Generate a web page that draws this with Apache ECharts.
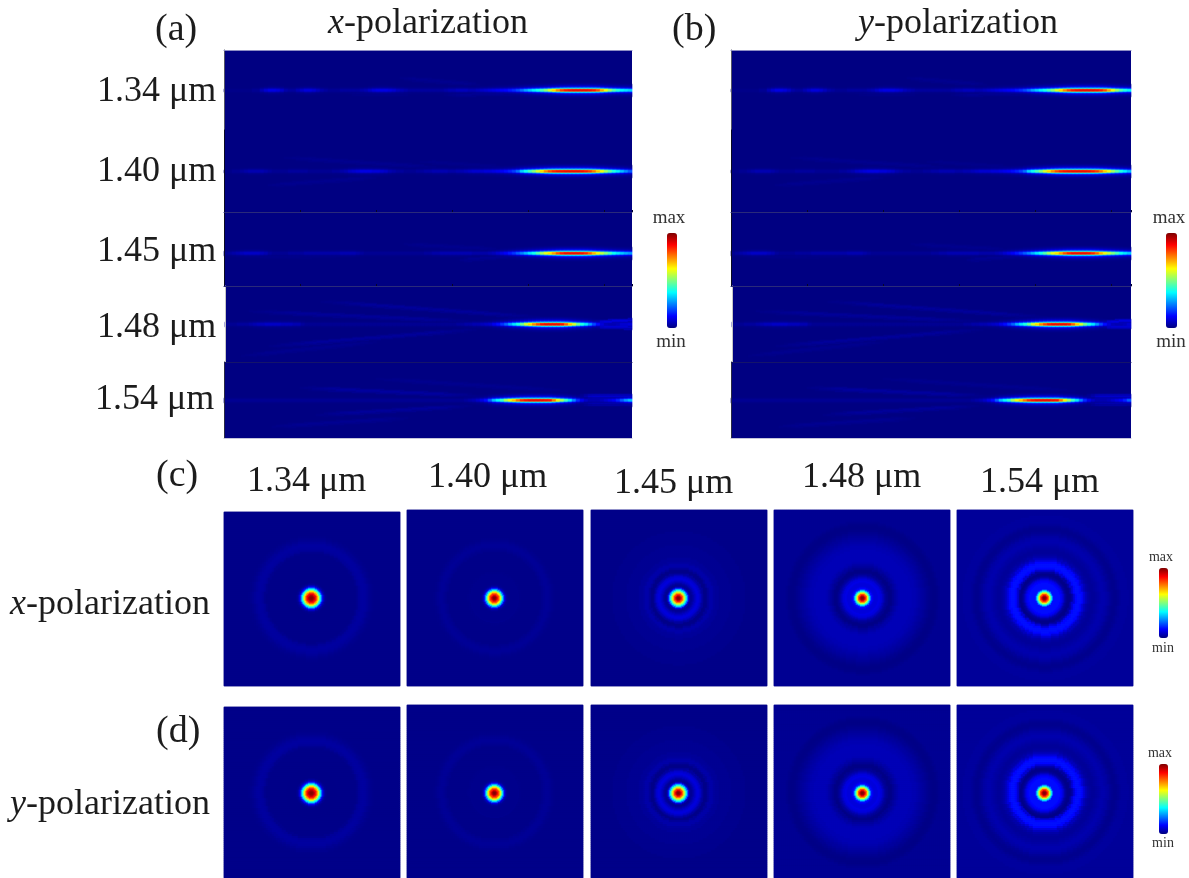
<!DOCTYPE html>
<html><head><meta charset="utf-8">
<style>html,body{margin:0;padding:0;background:#fff}#c{width:1189px;height:878px;filter:blur(0.5px)}</style>
<script src="https://cdn.jsdelivr.net/npm/echarts@6/dist/echarts.min.js"></script>
</head><body><div id="c"></div>
<script>
// Along-axis intensity (percent of max) of each focal line, one value per column
const line134=[1,1,1,1,1,1,1,2,2,5,8,10,10,9,7,4,3,3,5,7,9,9,8,6,4,3,2,2,2,3,3,3,3,3,4,5,7,9,10,10,10,9,8,6,5,4,3,3,3,3,3,3,3,3,3,4,5,5,6,6,6,5,5,6,7,8,9,10,11,12,13,15,17,20,24,29,33,37,41,46,52,60,68,76,83,87,89,90,90,90,90,89,87,82,73,63,54,47,42,38,36,34];
const line140=[1,1,2,2,3,4,5,5,5,5,4,3,2,2,2,2,3,3,3,3,3,2,2,2,2,2,2,3,3,4,5,7,8,9,10,10,10,9,9,8,7,5,4,3,3,2,2,2,3,3,4,4,5,5,5,5,4,4,5,5,6,7,8,8,8,9,9,10,11,12,14,16,19,24,34,40,46,52,60,68,76,82,86,88,89,90,90,90,90,89,87,84,78,70,63,55,48,42,37,32,27,22];
const line145=[2,3,4,5,6,7,7,7,7,6,5,3,2,2,2,2,3,3,3,3,4,4,4,4,4,4,4,4,4,5,5,5,5,4,3,2,2,2,2,2,2,2,2,2,2,2,2,2,2,2,3,3,4,4,5,5,5,5,5,5,5,5,4,4,4,4,5,6,8,10,12,15,18,22,26,31,36,41,47,55,62,67,74,82,87,90,90,90,90,89,86,80,72,64,58,52,46,40,36,33,30,28];
const line148=[2,2,2,3,3,3,4,5,6,6,7,7,7,7,6,6,6,5,5,3,2,2,2,2,2,2,2,2,2,2,2,2,2,2,2,2,2,2,2,2,2,2,2,2,2,2,2,2,2,2,2,2,2,2,2,2,2,2,3,3,4,4,5,5,6,7,8,11,14,18,23,30,36,42,50,60,68,76,83,88,90,90,90,90,88,80,70,60,50,42,36,28,20,14,9,6,5,5,6,8,8,9];
const line154=[2,2,2,2,2,2,2,2,2,2,2,2,2,2,2,2,2,2,2,2,2,2,2,2,2,2,2,2,2,2,2,2,2,2,2,2,2,2,2,2,2,2,2,2,2,2,2,2,2,2,2,2,2,2,2,2,2,2,2,2,3,4,5,7,10,14,22,32,38,44,55,63,70,78,85,88,90,90,90,90,89,88,78,65,55,45,36,26,17,11,7,5,5,5,6,8,10,12,16,22,28,32];
// Cross-axis falloff of a focal line, by row offset from its centre
const lineFalloff=[1,.92,.42,.2,.1,.06,.03,.015];
// Faint side streaks: [fromColumn, fromRowOffset, toColumn, toRowOffset, intensity]
const streaks134=[[41,-13,66,-5,.016],[53,5,78,2,.02],[28,3,49,3,.014]];
const streaks140=[[10,-15,57,-3,.016],[7,15,41,5,.016],[45,-11,74,-3,.012]];
const streaks145=[[57,7,74,2,.02],[41,-10,72,-3,.014],[3,4,34,2,.012]];
const streaks148=[[20,-24,82,-6,.026],[1,-14,66,-2,.024],[7,23,66,4,.026],[0,33,41,16,.016],[92,-2,101,-4,.09],[92,2,101,3,.08]];
const streaks154=[[16,-13,66,-4,.03],[32,-23,91,-8,.016],[20,15,64,5,.026],[8,27,49,17,.018],[88,-4,101,-4,.08],[88,3,101,3,.05]];
// Radial intensity profiles (percent of max), one value per 2 px ring
const rings134=[100,97,88,72,47,27,9,3,1.5,1,1,1,1,1,1,1,1,1,1,1,1,1,1,1.5,2.5,3,3.2,3,2.5,2,1.5,1.2,1,1,1,1,1,1,1,1,1,1,1,1,1,1,1,1,1,1,1,1,1,1,1,1,1,1,1,1,1,1,1,1,1];
const rings140=[100,96,83,62,38,14,4,2,1.5,1.5,1.5,1.5,1.5,1.2,1,1,1,1,1,1,1,1,1,1,1.5,2,2.2,2.2,2,1.5,1.2,1,1,1,1,1,1,1,1,1,1,1,1,1,1,1,1,1,1,1,1,1,1,1,1,1,1,1,1,1,1,1,1,1];
const rings145=[100,95,80,57,36,14,2,3,6,8.5,9,7,3,1,1,2.5,4,4,3,2.5,2.5,2,2,2,2,2,2,1.5,1.5,1.5,1.5,1.5,1.5,1.5,1,1,1,1,1,1,1,1,1,1,1,1,1,1,1,1,1,1,1,1,1,1,1,1,1,1,1,1,1,1,1];
const rings148=[100,95,76,50,28,14,9,9,10,9,7,4,2,.8,.8,2,3,4,5,5.5,5.5,5.5,5.5,5.5,5.5,5,5,4.5,4,3.5,3,2.5,2,1.5,1,.8,.8,1,1.5,2,2,2,2,2,2,2,2,2,2,2,2,2,2,2,2,2,2,2,2,2,2,2,2,2,2];
const rings154=[100,95,76,50,28,14,14,14,13,10,5,2,1,3,8,13,14,14,13,9,6,4,3,2.5,2.5,3,3.5,4,4.5,4.5,4,3.5,2.5,2,1.5,1.5,2,2.5,3,3,3,3,2.5,2.5,2.5,2.5,2.5,2.5,2.5,2.5,2.5,2.5,2.5,2.5,2.5,2.5,2.5,2.5,2.5,2.5,2.5,2.5,2.5,2.5,2.5];
// Central spot (percent of max), one value per 1 px of radius
const core134=[100,99,97,94,88,81,72,62,49,38,26,14,8,4,2,1.5,1,1,1,1,1,1,1,1,1];
const core140=[100,99,95,89,82,73,63,50,38,25,12,6,3,2,1.5,1.5,1.5,1.5,1.5,1.5,1.5,1.5,1.5,1.5,1.5];
const core145=[100,99,95,88,80,68,58,47,38,26,12,5,2,2,3,4,6,7,8.5,9,9,8,7,5,3];
const core148=[100,99,94,86,78,62,50,38,26,14,12,10,9,9,9,9,10,10,9,9,7,6,4,3,2];
const core154=[100,99,94,86,78,62,50,38,26,14,14,14,14,14,14,14,13,12,10,8,5,3,2,1,1];
// Tick and heading labels
const wavelengths=['1.34 \u03bcm','1.40 \u03bcm','1.45 \u03bcm','1.48 \u03bcm','1.54 \u03bcm'];
const jet=['#00007f','#0000ff','#007fff','#00ffff','#7fff7f','#ffff00','#ff7f00','#ff0000','#7f0000'];

const linesets=[[line134,streaks134],[line140,streaks140],[line145,streaks145],[line148,streaks148],[line154,streaks154]];
const ringsets=[rings134,rings140,rings145,rings148,rings154];
const coresets=[core134,core140,core145,core148,core154];
const FIELD='#000082', SERIF='"Liberation Serif","Times New Roman",serif';

function seq(n){return Array.from({length:n},(_,i)=>i);}
function lineCells(profile,strk,core,rows,cols){
  const out=[];
  for(let y=0;y<rows;y++)for(let x=0;x<cols;x++){
    let v=(profile[x]/100)*(lineFalloff[Math.abs(y-core)]||0);
    for(const s of strk){
      if(x<s[0]||x>s[2])continue;
      const t=(x-s[0])/(s[2]-s[0]);
      const off=s[1]+(s[3]-s[1])*t;
      const d=Math.abs(y-core-off);
      const fade=Math.min(1,t*4,s[2]>=100?1:(1-t)*4);
      if(d<1)v=Math.max(v,s[4]*fade);else if(d<2.2)v=Math.max(v,s[4]*.6*fade);
    }
    if(v>=.006)out.push([x,y,+v.toFixed(4)]);
  }
  return out;
}
function ringCells(prof,cx,cy,cols,rows,rMax){
  const out=[];
  for(let y=0;y<rows;y++)for(let x=0;x<cols;x++){
    const i=Math.round(Math.hypot(x-cx,y-cy));
    if(i>rMax)continue;
    const v=(prof[i]===undefined?prof[prof.length-1]:prof[i])/100;
    if(v>=.006)out.push([x,y,v]);
  }
  return out;
}
const grids=[],xs=[],ys=[],series=[];
function addPanel(rect,cols,rows,cells,xOpt,yOpt,gridOpt){
  const idx=grids.length;
  grids.push(Object.assign({left:rect[0],top:rect[1],width:rect[2],height:rect[3],show:true,backgroundColor:FIELD,borderWidth:0,containLabel:false},gridOpt||{}));
  xs.push(Object.assign({type:'category',gridIndex:idx,z:5,data:seq(cols),axisLabel:{show:false},splitLine:{show:false},axisTick:{show:false},axisLine:{show:false}},xOpt||{}));
  ys.push(Object.assign({type:'category',gridIndex:idx,z:5,inverse:true,data:seq(rows),axisLabel:{show:false},splitLine:{show:false},axisTick:{show:false},axisLine:{show:false}},yOpt||{}));
  series.push({type:'heatmap',xAxisIndex:idx,yAxisIndex:idx,data:cells,silent:true,animation:false,progressive:0,itemStyle:{borderWidth:0},emphasis:{disabled:true}});
}
// Panels (a) and (b): five stacked strips each
const stripTop=[50,130,212,286,362], stripH=[80,82,74,76,76], stripCore=[40,41,41,38,38];
const sepTick={show:true,interval:18,inside:true,length:2,lineStyle:{color:'#05052a'}};
const sepStyle=[
  {position:'top',axisLine:{show:true,lineStyle:{color:'#8d8dc4',width:1}}},
  {axisLine:{show:true,lineStyle:{color:'#2a2a7a',width:1}},axisTick:sepTick},
  {axisLine:{show:true,lineStyle:{color:'#2a2a7a',width:1}},axisTick:sepTick},
  {axisLine:{show:true,lineStyle:{color:'#14146a',width:1}}},
  {axisLine:{show:true,lineStyle:{color:'#c4c4dc',width:1}}}];
const leftEdge=['#555566','#0b0b22','#0b0b22','#c6c6c6','#2a2a44'];
[[224,102],[731,100]].forEach(([left,cols])=>{
  linesets.forEach(([p,s],k)=>{
    addPanel([left+(k===3?1:0),stripTop[k],cols*4-(k===3?1:0),stripH[k]],cols,stripH[k],lineCells(p,s,stripCore[k],stripH[k],cols),
      sepStyle[k],{axisLine:{show:true,lineStyle:{color:leftEdge[k],width:1}}});
  });
});
// Panels (c) and (d): five transverse intensity maps each
const mapLeft=[224,407,591,774,957], mapCx=[43.35,43.3,43.5,44,43.7];
const border={borderWidth:1,borderColor:'#9a9ac8'};
ringsets.forEach((r,k)=>{
  const top=k===0?512:510, rows=k===0?87:88;
  addPanel([mapLeft[k],top,176,rows*2],88,rows,ringCells(r,mapCx[k],k===0?42.65:43.65,88,rows,99),null,null,border);
});
ringsets.forEach((r,k)=>{
  const top=k===0?707:705, rows=k===0?86:87;
  addPanel([mapLeft[k],top,176,rows*2],88,rows,ringCells(r,mapCx[k],k===0?42.5:43.5,88,rows,99),null,null,border);
});
// Fine 1 px overlay of each central spot
const spotCy=[598,793];
spotCy.forEach(cy=>{
  coresets.forEach((c,k)=>{
    const cx=Math.round(mapLeft[k]+mapCx[k]*2);
    addPanel([cx-25,cy-25,51,51],51,51,ringCells(c,25,25,51,51,24),null,null,{show:false});
  });
});
const spotIdx=seq(10).map(i=>i+20);
function bar(l,t,w,h,idx){
  return {type:'continuous',min:0,max:1,left:l,top:t,itemWidth:w,itemHeight:h,showLabel:false,
    calculable:false,hoverLink:false,realtime:false,padding:0,seriesIndex:idx,inRange:{color:jet}};
}
function txt(t,x,y,fs){
  const size=fs||36;
  return {type:'text',silent:true,x:x,y:y,style:{text:t,fill:'#1c1c1c',fontFamily:SERIF,fontSize:size,textVerticalAlign:'middle',
    rich:{i:{fontStyle:'italic',fontFamily:SERIF,fontSize:size,fill:'#1c1c1c'},n:{fontFamily:SERIF,fontSize:size,fill:'#1c1c1c'}}}};
}
function small(t,x,y,fs){
  return {type:'text',silent:true,x:x,y:y,style:{text:t,fill:'#333',fontFamily:SERIF,fontSize:fs,textAlign:'center',textVerticalAlign:'middle'}};
}
const labels=[txt('(a)',155,30,38),txt('(b)',672,30,38),txt('(c)',156,476,38),txt('(d)',156,732,38),
  txt('{i|x}{n|-polarization}',328,24),txt('{i|y}{n|-polarization}',858,24),
  txt('{i|x}{n|-polarization}',10,605),txt('{i|y}{n|-polarization}',10,805)];
[[97,92],[97,172],[97,252],[97,328],[95,400]].forEach((p,k)=>labels.push(txt(wavelengths[k],p[0],p[1])));
[[247,482],[428,478],[614,484],[802,478],[980,483]].forEach((p,k)=>labels.push(txt(wavelengths[k],p[0],p[1])));
[['max',669,218,19],['min',671,342,19],['max',1169,218,19],['min',1171,342,19],
 ['max',1161,557,14],['min',1163,648,14],['max',1160,753,14],['min',1163,843,14]].forEach(a=>labels.push(small(a[0],a[1],a[2],a[3])));

const chart=echarts.init(document.getElementById('c'),null,{renderer:'canvas'});
chart.setOption({animation:false,tooltip:{show:false},grid:grids,xAxis:xs,yAxis:ys,series:series,
  visualMap:[bar(667,233,10,95,seq(5)),bar(1166,233,11,95,seq(5).map(i=>i+5)),
    bar(1159,568,9,70,seq(5).map(i=>i+10).concat(spotIdx)),bar(1159,764,9,70,seq(5).map(i=>i+15))],
  graphic:{elements:labels}});
</script></body></html>
